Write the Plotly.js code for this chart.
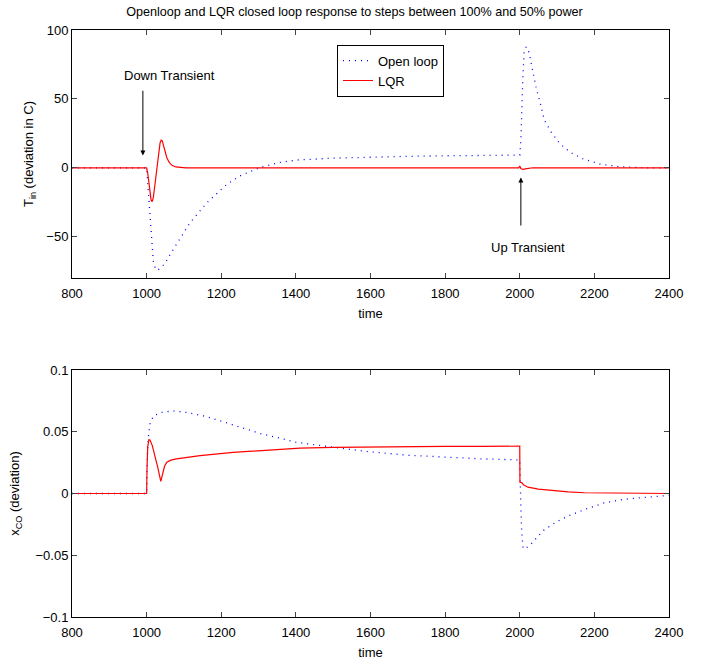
<!DOCTYPE html>
<html>
<head>
<meta charset="utf-8">
<script src="https://cdn.plot.ly/plotly-3.0.1.min.js"></script>
<style>html,body{margin:0;padding:0;background:#fff;}#chart{width:709px;height:664px;}</style>
</head>
<body>
<div id="chart"></div>
<script>
// Top panel: T_in deviation
var tOpenTop = [800, 1000, 1004, 1009, 1014, 1018, 1024, 1029, 1040, 1049, 1065, 1085, 1116, 1161, 1215, 1250, 1304, 1357, 1402, 1500, 1600, 1700, 1800, 1900, 2000, 2003, 2005, 2008, 2012, 2017, 2021, 2027, 2035, 2044, 2054, 2066, 2084, 2108, 2135, 2170, 2215, 2269, 2340, 2400];
var yOpenTop = [0, 0, -15, -32, -54, -68, -73.5, -74.5, -72, -69.5, -62, -53.7, -40, -25.5, -12, -5.9, 0.2, 3.9, 5.6, 7.0, 7.8, 8.3, 8.7, 9.0, 9.2, 20, 39.5, 64, 84.8, 87.5, 87.3, 81, 70, 58, 48, 34.6, 26, 17.4, 11.3, 6.4, 2.7, 0.7, 0, 0];
var tLqrTop = [800, 1000, 1003, 1006, 1009, 1012, 1015, 1018, 1021, 1025, 1029, 1033, 1036, 1039, 1042, 1045, 1049, 1054, 1060, 1068, 1078, 1090, 1105, 1997, 2000, 2003, 2008, 2015, 2025, 2035, 2400];
var yLqrTop = [0, 0, -4, -11, -19, -23.5, -24.5, -21.5, -15, -5, 4, 13, 18, 20, 19.5, 16.5, 12, 7.5, 4, 1.8, 0.6, 0.2, 0, 0, 1.2, -0.5, -1.2, -0.8, -0.3, 0, 0];

// Bottom panel: x_CO deviation
var tOpenBot = [800, 1000, 1002, 1004.5, 1009, 1018, 1040, 1071, 1107, 1152, 1197, 1250, 1304, 1366, 1402, 1500, 1600, 1700, 1800, 1900, 2000, 2001, 2003, 2005, 2009, 2015, 2027, 2063, 2098, 2134, 2179, 2224, 2277, 2340, 2400];
var yOpenBot = [0, 0, 0.03, 0.0454, 0.0562, 0.0629, 0.0656, 0.0669, 0.0656, 0.0629, 0.0589, 0.0535, 0.0486, 0.0441, 0.0414, 0.0375, 0.0337, 0.031, 0.0292, 0.028, 0.0272, 0.001, -0.011, -0.030, -0.0446, -0.0445, -0.042, -0.030, -0.023, -0.0177, -0.0124, -0.0078, -0.0048, -0.003, -0.0015];
var tLqrBot = [800, 1000, 1001, 1003, 1006, 1009, 1015, 1022, 1030, 1038, 1043, 1048, 1054, 1065, 1080, 1110, 1143, 1232, 1322, 1411, 1500, 1600, 1700, 1800, 1900, 2000, 2000.5, 2003, 2006, 2010, 2022, 2050, 2084, 2130, 2173, 2250, 2400];
var yLqrBot = [0, 0, 0.02, 0.038, 0.0435, 0.0433, 0.039, 0.031, 0.021, 0.0099, 0.017, 0.022, 0.0253, 0.027, 0.028, 0.0295, 0.0306, 0.0333, 0.0352, 0.0368, 0.0374, 0.0378, 0.038, 0.0381, 0.0382, 0.0383, 0.009, 0.0088, 0.0086, 0.007, 0.0051, 0.0036, 0.0024, 0.0013, 0.0006, 0.0002, 0];

var seriesNames = ['Open loop', 'LQR'];
var xTicks = [800, 1000, 1200, 1400, 1600, 1800, 2000, 2200, 2400];
var yTopTicks = [-50, 0, 50, 100];
var yTopTickText = ['\u221250', '0', '50', '100'];
var yBotTicks = [-0.1, -0.05, 0, 0.05, 0.1];
var yBotTickText = ['\u22120.1', '\u22120.05', '0', '0.05', '0.1'];

var FONT = 'Liberation Sans, Arial, Helvetica, sans-serif';
var FS = 13;

var traces = [
  {x: tOpenTop, y: yOpenTop, xaxis: 'x', yaxis: 'y', mode: 'lines', name: seriesNames[0],
   line: {color: '#0000ff', width: 1.3, dash: '1px,5px'}},
  {x: tLqrTop, y: yLqrTop, xaxis: 'x', yaxis: 'y', mode: 'lines', name: seriesNames[1],
   line: {color: '#ff0000', width: 1.2}},
  {x: tOpenBot, y: yOpenBot, xaxis: 'x2', yaxis: 'y2', mode: 'lines', showlegend: false,
   line: {color: '#0000ff', width: 1.3, dash: '1px,5px'}},
  {x: tLqrBot, y: yLqrBot, xaxis: 'x2', yaxis: 'y2', mode: 'lines', showlegend: false,
   line: {color: '#ff0000', width: 1.2}}
];

function xAx(anchor) {
  return {anchor: anchor, range: [800, 2400], tickvals: xTicks, ticks: 'inside', ticklen: 5,
    showline: true, linecolor: '#000', linewidth: 1, mirror: 'ticks', showgrid: false, zeroline: false,
    ticklabelstandoff: 3,
    tickfont: {family: FONT, size: FS, color: '#000'},
    title: {text: 'time', font: {family: FONT, size: FS, color: '#000'}, standoff: 9}};
}

function yAx(domain, anchor, range, vals, text, title, standoff) {
  return {domain: domain, anchor: anchor, range: range, tickvals: vals, ticktext: text,
    ticks: 'inside', ticklen: 5, showline: true, linecolor: '#000', linewidth: 1, mirror: 'ticks',
    showgrid: false, zeroline: false, tickfont: {family: FONT, size: FS, color: '#000'},
    title: {text: title, font: {family: FONT, size: FS, color: '#000'}, standoff: standoff}};
}

var layout = {
  width: 709, height: 664,
  margin: {l: 72, r: 40, t: 30, b: 47},
  paper_bgcolor: '#fff', plot_bgcolor: '#fff',
  font: {family: FONT, size: FS, color: '#000'},
  title: {text: 'Openloop and LQR closed loop response to steps between 100% and 50% power',
    x: 0.5, xref: 'container', y: 1 - 12 / 664, yref: 'container', yanchor: 'middle', xanchor: 'center',
    font: {family: FONT, size: 12.6, color: '#000'}},
  xaxis: xAx('y'),
  xaxis2: xAx('y2'),
  yaxis: yAx([0.5775, 1], 'x', [-80, 100], yTopTicks, yTopTickText, 'T<sub>in</sub> (deviation in C)', 9),
  yaxis2: yAx([0, 0.4208], 'x2', [-0.1, 0.1], yBotTicks, yBotTickText, 'x<sub>CO</sub> (deviation)', 12),
  showlegend: true,
  legend: {x: (337 - 72) / 597, y: 0.975, xanchor: 'left', yanchor: 'top', bgcolor: '#fff',
    bordercolor: '#000', borderwidth: 1, font: {family: FONT, size: FS, color: '#000'},
    tracegroupgap: 0, itemwidth: 30},
  annotations: [
    {xref: 'x', yref: 'y', x: 990, y: 9, ax: 990, ay: 57, axref: 'x', ayref: 'y', text: '',
     showarrow: true, arrowhead: 2, arrowsize: 1, arrowwidth: 1, arrowcolor: '#000'},
    {xref: 'x', yref: 'y', x: 1062, y: 67, text: 'Down Transient', showarrow: false,
     font: {family: FONT, size: FS, color: '#000'}},
    {xref: 'x', yref: 'y', x: 2003, y: -7, ax: 2003, ay: -43, axref: 'x', ayref: 'y', text: '',
     showarrow: true, arrowhead: 2, arrowsize: 1, arrowwidth: 1, arrowcolor: '#000'},
    {xref: 'x', yref: 'y', x: 2022, y: -58, text: 'Up Transient', showarrow: false,
     font: {family: FONT, size: FS, color: '#000'}}
  ]
};

Plotly.newPlot('chart', traces, layout, {displayModeBar: false, staticPlot: true});
</script>
</body>
</html>
